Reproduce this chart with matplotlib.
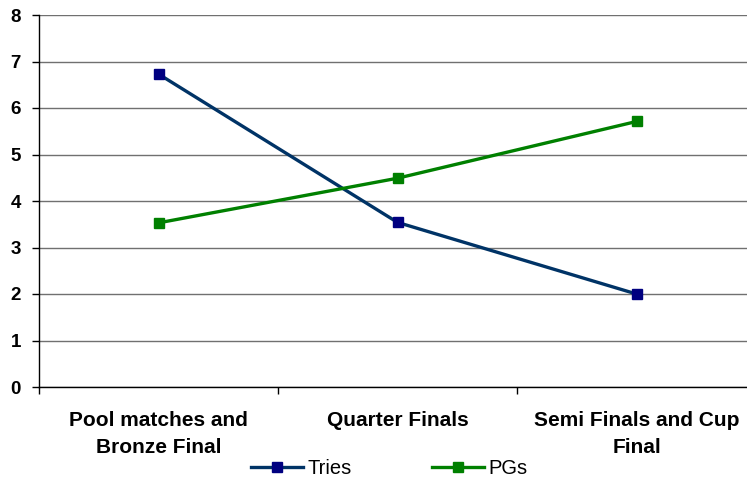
import matplotlib
matplotlib.use("Agg")
import matplotlib.pyplot as plt
from matplotlib.ticker import FixedLocator

categories = ["Pool matches and\nBronze Final", "Quarter Finals", "Semi Finals and Cup\nFinal"]
tries = [6.73, 3.54, 2.0]
pgs = [3.53, 4.49, 5.71]

plt.rcParams['font.family'] = ['Liberation Sans', 'DejaVu Sans']

fig = plt.figure(figsize=(7.47, 4.78), dpi=100)
W, H = 747, 478
ax = fig.add_axes([39 / W, 1 - 387 / H, (756 - 39) / W, (387 - 15) / H])

x = list(range(len(categories)))
ax.plot(x, tries, color='#003366', lw=2.4, marker='s', markersize=7.5,
        markerfacecolor='#000080', markeredgecolor='#000080', label='Tries', zorder=3)
ax.plot(x, pgs, color='#008000', lw=2.4, marker='s', markersize=7.5,
        markerfacecolor='#008000', markeredgecolor='#008000', label='PGs', zorder=3)

ax.set_xlim(-0.5, len(categories) - 0.5)
ax.set_ylim(0, 8)
ax.set_yticks(range(0, 9))
ax.yaxis.grid(True, color='#707070', lw=1.0)
ax.set_axisbelow(True)

ax.set_xticks(x)
ax.set_xticklabels(categories, fontsize=15, fontweight='bold', linespacing=1.58)
ax.xaxis.set_minor_locator(FixedLocator([-0.5, 0.5, 1.5, 2.5]))
ax.tick_params(axis='x', which='major', length=0, pad=17)
ax.tick_params(axis='x', which='minor', length=5, width=1, color='black', direction='out')
ax.tick_params(axis='y', length=5, width=1, pad=8, labelsize=13.5)
for lbl in ax.get_yticklabels():
    lbl.set_fontweight('bold')

for s in ['top', 'right']:
    ax.spines[s].set_visible(False)
for s in ['left', 'bottom']:
    ax.spines[s].set_color('black')
    ax.spines[s].set_linewidth(1.0)

fig.legend(loc='center', bbox_to_anchor=(389 / W, 1 - 469 / H), ncol=2, frameon=False,
           fontsize=14.5, handlelength=2.6, handletextpad=0.2, columnspacing=4.0,
           borderaxespad=0, borderpad=0)

fig.savefig('out.png', dpi=100)
